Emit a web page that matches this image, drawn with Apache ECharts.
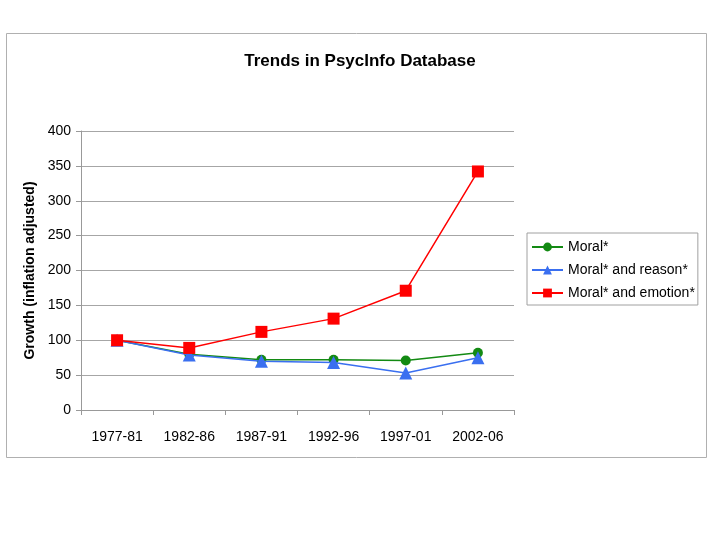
<!DOCTYPE html>
<html><head><meta charset="utf-8">
<script src="https://cdn.jsdelivr.net/npm/echarts@6/dist/echarts.min.js"></script>
<style>html,body{margin:0;padding:0;background:#fff;}#c{width:720px;height:540px;}</style>
</head><body><div id="c"></div>
<script>
const categories = ['1977-81','1982-86','1987-91','1992-96','1997-01','2002-06'];
const moral = [100, 80, 72, 72, 71, 82];
const moralReason = [100, 79, 70, 68, 53, 75];
const moralEmotion = [100, 89, 112, 131, 171, 342];
const yTicks = [0, 400, 50];

const chart = echarts.init(document.getElementById('c'), null, {renderer:'canvas'});
const font = 'Liberation Sans, Arial, sans-serif';
chart.setOption({
  animation: false,
  backgroundColor: '#fff',
  textStyle: {fontFamily: font},
  title: {
    text: 'Trends in PsycInfo Database',
    left: 355, top: 48, textAlign: 'center',
    textStyle: {fontFamily: font, fontSize: 17, fontWeight: 'bold', color: '#000'}
  },
  graphic: [{
    type: 'rect', shape: {x: 6.5, y: 33.5, width: 700, height: 424},
    style: {fill: 'none', stroke: '#b0b0b0', lineWidth: 1}, z: -1
  }],
  grid: {left: 81, right: 206, top: 131, bottom: 130},
  legend: {
    orient: 'vertical', left: 527, top: 233,
    padding: [7, 3, 5, 4], itemGap: 9,
    itemWidth: 31, itemHeight: 11,
    borderColor: '#a0a0a0', borderWidth: 1,
    textStyle: {fontFamily: font, fontSize: 14, color: '#000'},
    data: ['Moral*', 'Moral* and reason*', 'Moral* and emotion*']
  },
  xAxis: {
    type: 'category', data: categories, boundaryGap: true,
    axisLine: {lineStyle: {color: '#999'}},
    axisTick: {show: true, length: 5, inside: false, lineStyle: {color: '#999'}},
    axisLabel: {fontFamily: font, fontSize: 14, color: '#000', margin: 20}
  },
  yAxis: {
    type: 'value', min: yTicks[0], max: yTicks[1], interval: yTicks[2],
    name: 'Growth (inflation adjusted)', nameLocation: 'middle', nameGap: 43,
    nameRotate: 90,
    nameTextStyle: {fontFamily: font, fontSize: 14, fontWeight: 'bold', color: '#000'},
    axisLine: {show: true, lineStyle: {color: '#999'}},
    axisTick: {show: true, length: 5, lineStyle: {color: '#999'}},
    splitLine: {lineStyle: {color: '#a6a6a6', width: 1}},
    axisLabel: {fontFamily: font, fontSize: 14, color: '#000', margin: 10}
  },
  series: [
    {name: 'Moral*', type: 'line', data: moral, symbol: 'circle', symbolSize: 10,
     itemStyle: {color: '#138a13'}, lineStyle: {color: '#138a13', width: 1.5}, z: 2},
    {name: 'Moral* and reason*', type: 'line', data: moralReason, symbol: 'triangle', symbolSize: 13,
     itemStyle: {color: '#3a6ff0'}, lineStyle: {color: '#3a6ff0', width: 1.5}, z: 3},
    {name: 'Moral* and emotion*', type: 'line', data: moralEmotion, symbol: 'rect', symbolSize: 12,
     itemStyle: {color: '#ff0000'}, lineStyle: {color: '#ff0000', width: 1.5}, z: 4}
  ]
});
</script></body></html>
